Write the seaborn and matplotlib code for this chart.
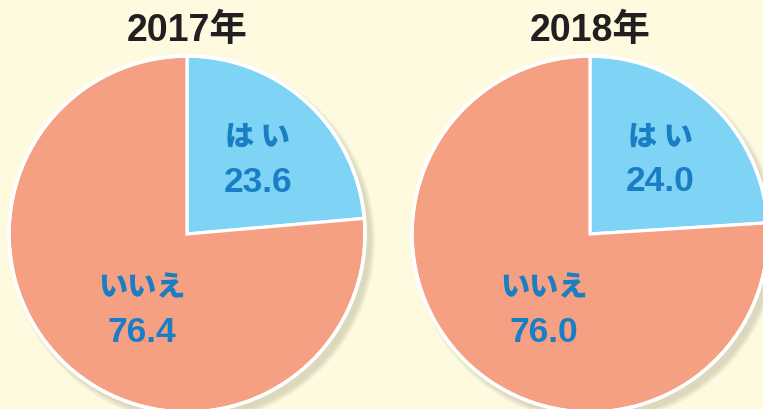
import matplotlib
matplotlib.use("Agg")
import matplotlib.pyplot as plt
import seaborn as sns
from matplotlib.patches import Circle

years = ["2017年", "2018年"]
categories = ["は い", "いいえ"]
values_2017 = [23.6, 76.4]
values_2018 = [24.0, 76.0]
series = [values_2017, values_2018]

sns.set_theme(style="white")
plt.rcParams['font.family'] = ['Liberation Sans', 'Noto Sans CJK JP', 'DejaVu Sans']

BG = "#FEFADF"
COLORS = ["#7FD3F5", "#F59F83"]
TXT = "#1A7EC5"

W, H = 763, 409
fig = plt.figure(figsize=(W / 100, H / 100), dpi=100, facecolor=BG)

R = 178
centers = [(187, 234), (590, 234)]
label_pos = [
    [((257, 137), (258, 182)), ((142, 287), (142, 332))],
    [((660, 137), (660, 182)), ((544, 287), (544, 332))],
]

for i, (cx, cy) in enumerate(centers):
    by = H - cy
    ax = fig.add_axes([(cx - R) / W, (by - R) / H, 2 * R / W, 2 * R / H])
    ax.set_facecolor("none")
    # soft shadow
    for k in range(8):
        ax.add_patch(Circle((0.03, -0.035), 1.0 + 0.004 * k, color="#8a8a70",
                            alpha=0.04, lw=0, zorder=0, clip_on=False))
    wedges, _ = ax.pie(series[i], colors=COLORS, startangle=90, counterclock=False,
                       radius=1.0, wedgeprops=dict(edgecolor="white", linewidth=2.3))
    for w in wedges:
        w.set_clip_on(False)
        w.set_zorder(2)
    ax.add_patch(Circle((0, 0), 1.0, fill=False, ec="white", lw=2.6, zorder=3, clip_on=False))
    ax.set_xlim(-1, 1)
    ax.set_ylim(-1, 1)
    ax.set_aspect("equal")
    ax.axis("off")
    for j, cat in enumerate(categories):
        (lx, ly), (vx, vy) = label_pos[i][j]
        ax.text((lx - cx) / R, (cy - ly) / R, cat, ha="center", va="center",
                fontsize=21, fontweight="black", color=TXT,
                family=['Noto Sans CJK JP', 'DejaVu Sans'], zorder=5)
        ax.text((vx - cx) / R, (cy - vy) / R, f"{series[i][j]:.1f}", ha="center",
                va="center", fontsize=25.5, fontweight="bold", color=TXT,
                family=['Liberation Sans', 'DejaVu Sans'], zorder=5)
    fig.text(cx / W, 1 - 31 / H, years[i], ha="center", va="center", fontsize=27,
             fontweight="bold", color="#231F20",
             family=['Liberation Sans', 'Noto Sans CJK JP'])

fig.savefig("out.png", dpi=100, facecolor=BG)
